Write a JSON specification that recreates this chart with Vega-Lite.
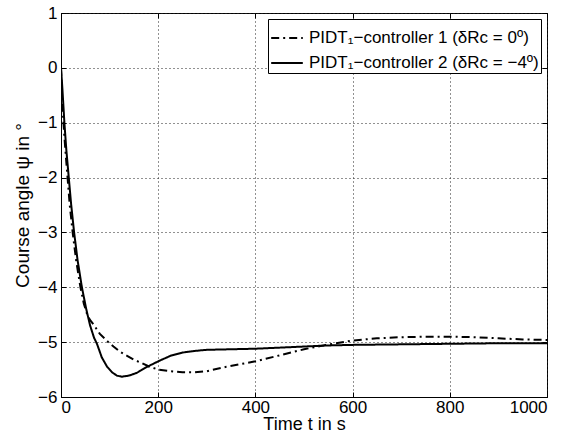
{
  "$schema": "https://vega.github.io/schema/vega-lite/v6.json",
  "width": 486,
  "height": 384,
  "autosize": {"type": "none"},
  "padding": {"left": 61, "top": 13, "right": 27, "bottom": 39},
  "background": "white",
  "config": {
    "font": "Liberation Sans",
    "view": {"stroke": "black", "strokeWidth": 1},
    "axis": {
      "domainColor": "black",
      "tickColor": "black",
      "labelColor": "black",
      "titleColor": "black",
      "labelFont": "Liberation Sans",
      "titleFont": "Liberation Sans",
      "labelFontSize": 17,
      "titleFontSize": 19,
      "titleFontWeight": "normal",
      "tickSize": -5
    }
  },
  "data": {
    "values": [
      {"t": 0, "psi": 0, "s": "c1"},
      {"t": 2, "psi": -0.5, "s": "c1"},
      {"t": 5, "psi": -1.0, "s": "c1"},
      {"t": 9, "psi": -1.5, "s": "c1"},
      {"t": 13.5, "psi": -2.0, "s": "c1"},
      {"t": 18, "psi": -2.5, "s": "c1"},
      {"t": 24, "psi": -3.0, "s": "c1"},
      {"t": 31, "psi": -3.5, "s": "c1"},
      {"t": 40, "psi": -4.0, "s": "c1"},
      {"t": 47, "psi": -4.3, "s": "c1"},
      {"t": 54, "psi": -4.5, "s": "c1"},
      {"t": 60, "psi": -4.6, "s": "c1"},
      {"t": 67, "psi": -4.68, "s": "c1"},
      {"t": 80, "psi": -4.85, "s": "c1"},
      {"t": 95, "psi": -4.98, "s": "c1"},
      {"t": 108, "psi": -5.08, "s": "c1"},
      {"t": 122, "psi": -5.18, "s": "c1"},
      {"t": 136, "psi": -5.25, "s": "c1"},
      {"t": 150, "psi": -5.32, "s": "c1"},
      {"t": 163, "psi": -5.37, "s": "c1"},
      {"t": 180, "psi": -5.44, "s": "c1"},
      {"t": 200, "psi": -5.5, "s": "c1"},
      {"t": 225, "psi": -5.53, "s": "c1"},
      {"t": 250, "psi": -5.55, "s": "c1"},
      {"t": 275, "psi": -5.55, "s": "c1"},
      {"t": 300, "psi": -5.53, "s": "c1"},
      {"t": 340, "psi": -5.45, "s": "c1"},
      {"t": 400, "psi": -5.35, "s": "c1"},
      {"t": 450, "psi": -5.24, "s": "c1"},
      {"t": 500, "psi": -5.13, "s": "c1"},
      {"t": 545, "psi": -5.05, "s": "c1"},
      {"t": 600, "psi": -4.97, "s": "c1"},
      {"t": 650, "psi": -4.93, "s": "c1"},
      {"t": 700, "psi": -4.91, "s": "c1"},
      {"t": 750, "psi": -4.9, "s": "c1"},
      {"t": 800, "psi": -4.9, "s": "c1"},
      {"t": 850, "psi": -4.91, "s": "c1"},
      {"t": 900, "psi": -4.93, "s": "c1"},
      {"t": 950, "psi": -4.95, "s": "c1"},
      {"t": 1000, "psi": -4.96, "s": "c1"},
      {"t": 0, "psi": 0, "s": "c2"},
      {"t": 3, "psi": -0.4, "s": "c2"},
      {"t": 7, "psi": -1.0, "s": "c2"},
      {"t": 11, "psi": -1.5, "s": "c2"},
      {"t": 16, "psi": -2.0, "s": "c2"},
      {"t": 21, "psi": -2.5, "s": "c2"},
      {"t": 27, "psi": -3.0, "s": "c2"},
      {"t": 34, "psi": -3.5, "s": "c2"},
      {"t": 43, "psi": -4.0, "s": "c2"},
      {"t": 52, "psi": -4.4, "s": "c2"},
      {"t": 60, "psi": -4.7, "s": "c2"},
      {"t": 68, "psi": -4.92, "s": "c2"},
      {"t": 74, "psi": -5.03, "s": "c2"},
      {"t": 84, "psi": -5.28, "s": "c2"},
      {"t": 95, "psi": -5.45, "s": "c2"},
      {"t": 105, "psi": -5.55, "s": "c2"},
      {"t": 115, "psi": -5.61, "s": "c2"},
      {"t": 125, "psi": -5.63, "s": "c2"},
      {"t": 140, "psi": -5.61, "s": "c2"},
      {"t": 156, "psi": -5.56, "s": "c2"},
      {"t": 175, "psi": -5.46, "s": "c2"},
      {"t": 200, "psi": -5.35, "s": "c2"},
      {"t": 225, "psi": -5.25, "s": "c2"},
      {"t": 250, "psi": -5.19, "s": "c2"},
      {"t": 275, "psi": -5.16, "s": "c2"},
      {"t": 300, "psi": -5.14, "s": "c2"},
      {"t": 350, "psi": -5.13, "s": "c2"},
      {"t": 400, "psi": -5.12, "s": "c2"},
      {"t": 450, "psi": -5.1, "s": "c2"},
      {"t": 500, "psi": -5.08, "s": "c2"},
      {"t": 550, "psi": -5.06, "s": "c2"},
      {"t": 600, "psi": -5.05, "s": "c2"},
      {"t": 700, "psi": -5.04, "s": "c2"},
      {"t": 800, "psi": -5.03, "s": "c2"},
      {"t": 900, "psi": -5.02, "s": "c2"},
      {"t": 1000, "psi": -5.02, "s": "c2"}
    ]
  },
  "layer": [
    {
      "mark": {"type": "line", "strokeOpacity": 0, "clip": true},
      "encoding": {
        "x": {"field": "t", "type": "quantitative", "scale": {"domain": [0, 1000], "nice": false},
              "axis": {"orient": "top", "labels": false, "title": null, "grid": false, "domain": false, "tickCount": 5}},
        "y": {"field": "psi", "type": "quantitative", "scale": {"domain": [-6, 1], "nice": false},
              "axis": {"orient": "right", "labels": false, "title": null, "grid": false, "domain": false, "tickCount": 7}},
        "detail": {"field": "s"}
      }
    },
    {
      "mark": {"type": "line", "color": "black", "strokeWidth": 2, "clip": true},
      "encoding": {
        "x": {"field": "t", "type": "quantitative", "scale": {"domain": [0, 1000], "nice": false},
              "axis": {"title": "Time t in s", "titleFontSize": 18, "tickCount": 5, "format": "d", "labelPadding": 7, "titlePadding": 0,
                       "grid": true, "gridColor": "#222", "gridDash": [1, 3], "gridOpacity": 1, "gridWidth": 1}},
        "y": {"field": "psi", "type": "quantitative", "scale": {"domain": [-6, 1], "nice": false},
              "axis": {"title": "Course angle ψ in °", "tickCount": 7, "labelPadding": 9, "titlePadding": 5,
                       "labelExpr": "replace(datum.label, '-', '−')",
                       "grid": true, "gridColor": "#222", "gridDash": [1, 3], "gridOpacity": 1, "gridWidth": 1}},
        "strokeDash": {
          "field": "s", "type": "nominal",
          "scale": {"domain": ["c1", "c2"], "range": [[8, 4, 2, 4], [1, 0]]},
          "legend": {
            "title": null,
            "orient": "top-right",
            "offset": 6,
            "fillColor": "white",
            "strokeColor": "black",
            "padding": 2,
            "symbolType": "stroke",
            "symbolSize": 1000,
            "symbolStrokeWidth": 2,
            "symbolStrokeColor": "black",
            "labelFontSize": 17,
            "labelFont": "Liberation Sans",
            "labelColor": "black",
            "labelLimit": 400,
            "labelOffset": 5,
            "rowPadding": -10,
            "labelExpr": "datum.value == 'c1' ? 'PIDT₁−controller 1 (δRc = 0º)' : 'PIDT₁−controller 2 (δRc = −4º)'"
          }
        }
      }
    }
  ],
  "resolve": {"axis": {"x": "independent", "y": "independent"}}
}
